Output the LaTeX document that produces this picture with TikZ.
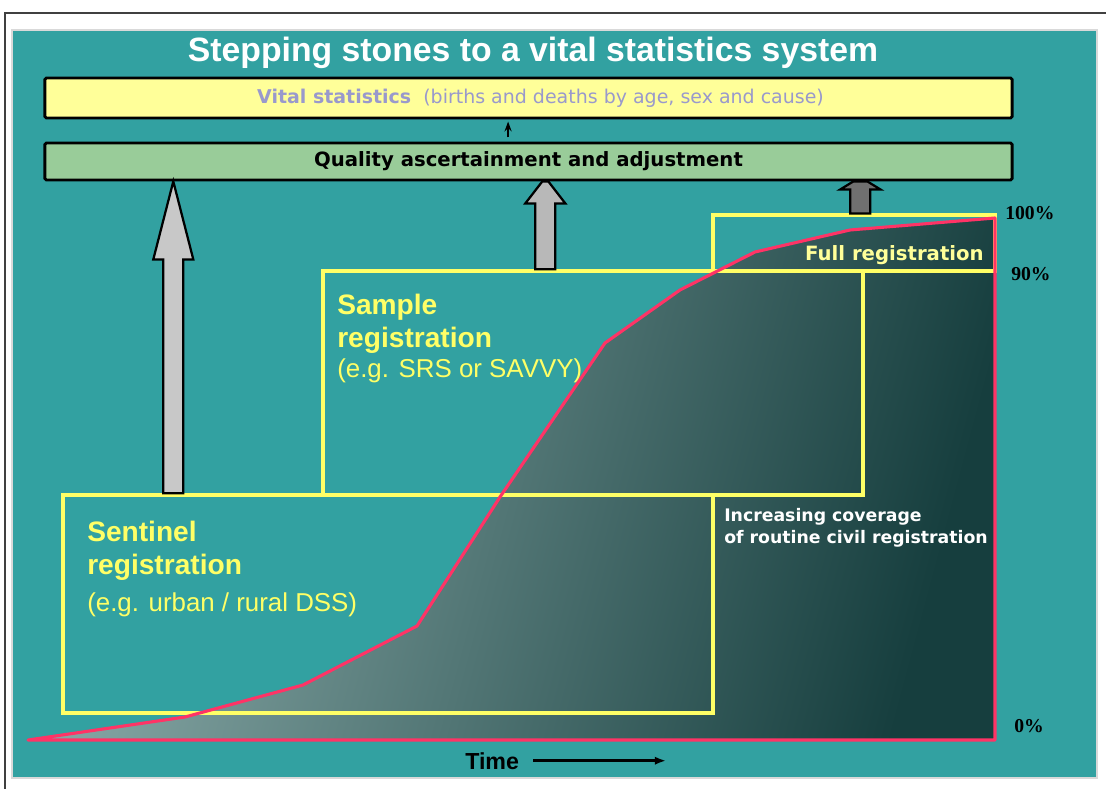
\documentclass[tikz,border=0pt]{standalone}
\usepackage{fontspec}
\setmainfont{Liberation Sans}
\newfontfamily\verdana{DejaVu Sans}
\newfontfamily\timesbf{Liberation Serif}
\usetikzlibrary{calc, arrows.meta}

\definecolor{panel}{RGB}{50,161,161}
\definecolor{stoneyellow}{RGB}{255,255,102}
\definecolor{paleyellow}{RGB}{255,255,153}
\definecolor{bargreen}{RGB}{153,204,153}
\definecolor{lavender}{RGB}{153,153,204}
\definecolor{coverred}{RGB}{255,51,102}
\definecolor{shadelight}{RGB}{142,174,172}
\definecolor{shadedark}{RGB}{22,62,62}
\definecolor{lightstone}{RGB}{200,200,200}
\definecolor{midstone}{RGB}{184,184,184}
\definecolor{darkstone}{RGB}{112,112,112}

\begin{document}
\begin{tikzpicture}[x=0.025cm, y=-0.025cm,
    stone/.style={draw=stoneyellow, line width=2.3pt, inner sep=0pt},
    bar/.style={draw=black, line width=2pt, rounded corners=1pt, minimum width=24.175cm, inner sep=0pt},
    stonelabel/.style={text=stoneyellow, anchor=north west, inner sep=0pt, align=left},
    stonearrow/.style={draw=black, line width=1.6pt, line join=miter},
    percent/.style={font=\timesbf\bfseries\fontsize{14}{16}\selectfont, anchor=base west, inner sep=0pt}]
    \useasboundingbox (0,0) rectangle (1106,789);
    \fill[white] (0,0) rectangle (1106,789);
    \draw[black!75, line width=1pt] (5,789) -- (5,13) -- (1106,13);
    \draw[black!15, fill=panel, line width=1pt] (12,30) rectangle (1097,778);

    \node[font=\bfseries\fontsize{24}{28}\selectfont, text=white] (title) at (533,53) {Stepping stones to a vital statistics system};

    % rising coverage of civil registration
    \foreach \x/\y [count=\i] in {28/740, 185/717, 303/685, 417/626, 500/497, 605/343, 680/290, 755/252, 850/230, 995/218}
        \coordinate (c\i) at (\x,\y);
    \coordinate (c0) at (995,740);
    \shade[left color=shadelight, right color=shadedark, shading angle=75] (c1) \foreach \i in {2,...,10} {-- (c\i)} -- (c0) -- cycle;

    \node[stone, minimum width=16.25cm, minimum height=5.45cm] (sentinel) at (388,604) {};
    \node[stone, minimum width=13.5cm, minimum height=5.6cm] (sample) at (593,383) {};
    \node[stone, minimum width=7.05cm, minimum height=1.4cm] (full) at (854,243) {};

    \draw[coverred, line width=2.2pt, line join=round] (c1) \foreach \i in {2,...,10} {-- (c\i)} -- (c0) -- cycle;

    \node[bar, fill=paleyellow, minimum height=1cm, text=lavender, font=\verdana\fontsize{13.5}{15}\selectfont] (vital) at (528.5,98) {\hspace*{0.6cm}{\bfseries Vital statistics}\ \ (births and deaths by age, sex and cause)};
    \node[bar, fill=bargreen, minimum height=0.925cm, font=\verdana\bfseries\fontsize{14}{16}\selectfont] (quality) at (528.5,161.5) {Quality ascertainment and adjustment};
    \draw[-{Stealth[length=7pt, width=5pt]}, line width=1.2pt, shorten <=3pt, shorten >=1.5pt] ([xshift=-0.51cm]quality.north) -- ([xshift=-0.51cm]vital.south);

    \coordinate (sentinelfoot) at ($(sentinel.north west)+(112,0)$);
    \coordinate (samplefoot) at ($(sample.north west)+(224,0)$);
    \coordinate (fullfoot) at ($(full.north west)+(149,0)$);
    \foreach \foot/\hl/\tip/\col in {sentinel/78/0/lightstone, sample/22/3/midstone, full/8/7/darkstone}
    {
        \coordinate (top) at (\foot foot |- quality.south);
        \draw[stonearrow, fill=\col] ($(\foot foot)+(-10,0)$) -- ($(top)+(-10,\hl)$) -- ($(top)+(-20,\hl)$) -- ($(top)+(-\tip,0)$) -- ($(top)+(\tip,0)$) -- ($(top)+(20,\hl)$) -- ($(top)+(10,\hl)$) -- ($(\foot foot)+(10,0)$) -- cycle;
    }

    \node[stonelabel, font=\bfseries\fontsize{20}{23.4}\selectfont] (sentinelname) at (87,521) {Sentinel\\registration};
    \node[stonelabel, font=\fontsize{18.4}{21}\selectfont] (sentinelexample) at (87,592) {(e.g. urban / rural DSS)};
    \node[stonelabel, font=\bfseries\fontsize{20}{23.4}\selectfont] (samplename) at (337,294) {Sample\\registration};
    \node[stonelabel, font=\fontsize{18.4}{21}\selectfont] (sampleexample) at (337,358) {(e.g. SRS or SAVVY)};
    \node[text=paleyellow, font=\verdana\bfseries\fontsize{14}{16}\selectfont, anchor=base east, inner sep=0pt] (fullname) at (984,260) {Full registration};
    \node[text=white, font=\verdana\bfseries\fontsize{12.3}{15.8}\selectfont, anchor=north west, align=left, inner sep=0pt] (coverage) at (724,508) {Increasing coverage\\of routine civil registration};

    \node[percent] (p100) at (1005,219) {100\%};
    \node[percent] (p90) at (1011,280) {90\%};
    \node[percent] (p0) at (1014,732) {0\%};

    \node[font=\bfseries\fontsize{16.5}{18}\selectfont, anchor=base west, inner sep=0pt] (time) at (465,769) {Time};
    \coordinate (timeend) at (666,762);
    \draw[-{Latex[length=8pt, width=6pt]}, line width=2pt] ($(time.east)+(14,0)$) -- (timeend |- time.east);
\end{tikzpicture}
\end{document}
